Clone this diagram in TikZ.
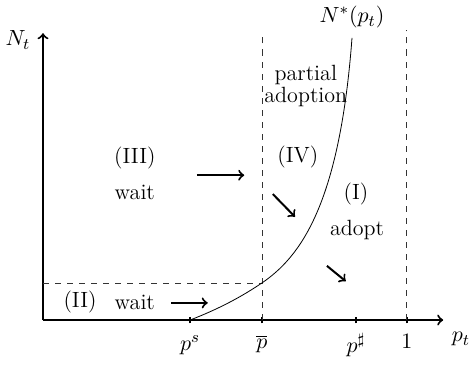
\documentclass[tikz,border=0pt]{standalone}
\usepackage{amsmath}
\usepackage{amssymb}
\usepackage{tikz}
\usetikzlibrary{arrows,positioning,calc}

\begin{document}
\begin{tikzpicture}[every node/.style={font=\fontsize{11}{13}\selectfont},
  axis/.style={line width=1pt,->},
  flow/.style={line width=1pt,->},
  guide/.style={dashed,thin,black!80},
  tickmark/.style={line width=0.8pt}]
\useasboundingbox (-0.754,-0.789) rectangle (7.507,5.613);

% axes
\coordinate (O) at (0,0);
\coordinate (xend) at (7.02,0);
\coordinate (yend) at (0,5.03);
\draw[axis] (O) -- (xend);
\draw[axis] (O) -- (yend);
\node (Nt) at (-0.44,4.91) {$N_t$};
\node (pt) at (7.33,-0.34) {$p_t$};

% ticks on the price axis
\coordinate (ps) at (2.58,0);
\coordinate (pbar) at (3.84,0);
\coordinate (psharp) at (5.49,0);
\coordinate (pone) at (6.38,0);
\foreach \c in {ps,pbar,psharp,pone}
  \draw[tickmark] ($(\c)+(0,-0.06)$) -- ($(\c)+(0,0.06)$);
\node (lps) at (2.58,-0.44) {$p^s$};
\node (lpbar) at (3.84,-0.42) {$\overline{p}$};
\node (lpsharp) at (5.49,-0.44) {$p^\sharp$};
\node (lpone) at (6.38,-0.37) {$1$};

% threshold lines
\coordinate (pbartop) at (3.84,5.0);
\coordinate (pbarlow) at (3.84,0.65);
\coordinate (ylow) at (0,0.65);
\coordinate (onetop) at (6.38,5.09);
\draw[guide] (pbar) -- (pbartop);
\draw[guide] (pone) -- (onetop);
\draw[guide] (ylow) -- (pbarlow);

% N*(p_t)
\coordinate (Ntop) at (5.42,4.95);
\draw[thin] (ps) .. controls (3.1,0.2) and (3.5,0.42) .. (pbarlow)
  .. controls (4.5,1.1) and (5.2,2.0) .. (Ntop);
\node (Nstar) at (5.42,5.31) {$N^*(p_t)$};

% regions
\node (r3) at (1.61,2.84) {(III)};
\node (w3) at (1.61,2.23) {wait};
\node (r4) at (4.47,2.86) {(IV)};
\node[align=center,inner sep=1pt,font=\fontsize{11}{9}\selectfont] (partial) at (4.61,4.10) {partial\\adoption};
\node (r1) at (5.49,2.21) {(I)};
\node (adopt) at (5.51,1.58) {adopt};
\node (r2) at (0.65,0.32) {(II)};
\node (w2) at (1.61,0.30) {wait};

% dynamics
\coordinate (a1s) at (2.70,2.54);
\coordinate (a1e) at (3.53,2.54);
\coordinate (a2s) at (2.25,0.30);
\coordinate (a2e) at (2.89,0.30);
\coordinate (a3s) at (4.03,2.21);
\coordinate (a3e) at (4.42,1.81);
\coordinate (a4s) at (4.98,0.95);
\coordinate (a4e) at (5.31,0.68);
\draw[flow] (a1s) -- (a1e);
\draw[flow] (a2s) -- (a2e);
\draw[flow] (a3s) -- (a3e);
\draw[flow] (a4s) -- (a4e);

\end{tikzpicture}
\end{document}
